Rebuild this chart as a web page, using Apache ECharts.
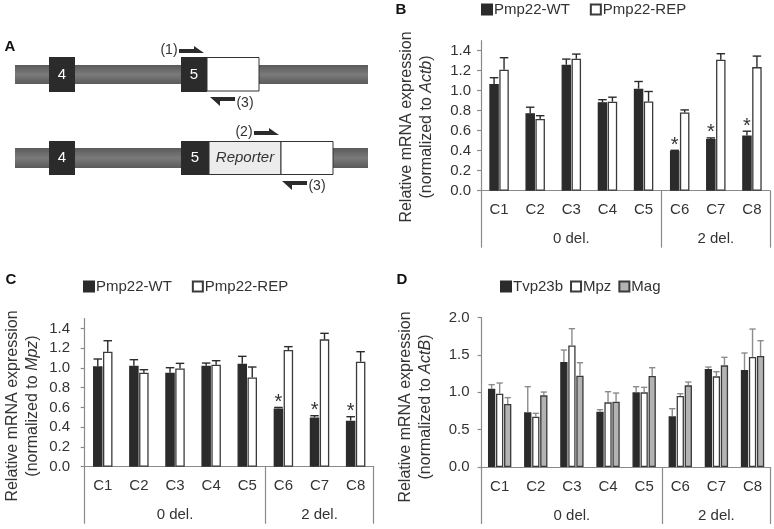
<!DOCTYPE html>
<html>
<head>
<meta charset="utf-8">
<script src="https://cdn.jsdelivr.net/npm/echarts@6/dist/echarts.min.js"></script>
<style>
  html, body { margin: 0; padding: 0; background: #fff; }
  #chart { width: 774px; height: 529px; }
</style>
</head>
<body>
<div id="chart"></div>
<script>
const categories = ["C1", "C2", "C3", "C4", "C5", "C6", "C7", "C8"];
const groupNames = ["0 del.", "2 del."];
const groupBounds = [0, 5, 8];
const groupCenters = [2.5, 6.5];

const ticksPmp = [0, 0.2, 0.4, 0.6, 0.8, 1.0, 1.2, 1.4];
const ticksRef = [0, 0.5, 1.0, 1.5, 2.0];

// panel B, normalized to Actb
const bWt = [1.066, 0.775, 1.26, 0.885, 1.02, 0.398, 0.518, 0.551];
const bWtSd = [0.064, 0.06, 0.056, 0.025, 0.072, 0.006, 0.01, 0.044];
const bRep = [1.21, 0.718, 1.32, 0.89, 0.892, 0.782, 1.31, 1.236];
const bRepSd = [0.12, 0.032, 0.046, 0.045, 0.1, 0.026, 0.06, 0.11];

// panel C, normalized to Mpz
const cWt = [1.016, 1.022, 0.951, 1.022, 1.043, 0.59, 0.499, 0.466];
const cWtSd = [0.074, 0.061, 0.051, 0.027, 0.074, 0.01, 0.017, 0.04];
const cRep = [1.164, 0.951, 0.995, 1.032, 0.904, 1.181, 1.289, 1.063];
const cRepSd = [0.111, 0.031, 0.051, 0.041, 0.105, 0.034, 0.061, 0.101];

const significant = [false, false, false, false, false, true, true, true];

// panel D, normalized to ActB
const dTvp = [1.049, 0.732, 1.406, 0.741, 1.0, 0.679, 1.312, 1.299];
const dTvpSd = [0.054, 0.344, 0.161, 0.027, 0.076, 0.102, 0.027, 0.228];
const dMpz = [0.982, 0.674, 1.629, 0.866, 1.0, 0.951, 1.214, 1.473];
const dMpzSd = [0.143, 0.045, 0.224, 0.143, 0.067, 0.031, 0.063, 0.375];
const dMag = [0.844, 0.96, 1.223, 0.875, 1.219, 1.094, 1.362, 1.487];
const dMagSd = [0.085, 0.044, 0.174, 0.116, 0.111, 0.044, 0.107, 0.205];

const FONT = "Liberation Sans";
const TEXT = "#333";
const AXIS = "#8a8a8a";
const DARK = "#2b2b2b";
const EDGE = "#3a3a3a";

const chart = echarts.init(document.getElementById("chart"), null, { renderer: "canvas" });

function grid(left, top, height) {
  return { left, top, width: 289, height, containLabel: false };
}

function catAxis(gridIndex) {
  return {
    type: "category",
    gridIndex,
    data: categories,
    axisLine: { lineStyle: { color: AXIS, width: 1.2 } },
    axisTick: { show: false },
    axisLabel: { color: TEXT, fontFamily: FONT, fontSize: 15, margin: 12 },
  };
}

function groupAxis(gridIndex) {
  return {
    type: "value",
    gridIndex,
    min: 0,
    max: 8,
    position: "bottom",
    axisLine: { show: false },
    splitLine: { show: false },
    axisTick: {
      show: true,
      customValues: groupBounds,
      length: 57,
      lineStyle: { color: AXIS, width: 1.2 },
    },
    axisLabel: {
      customValues: groupCenters,
      margin: 41,
      color: TEXT,
      fontFamily: FONT,
      fontSize: 15,
      formatter: (v) => groupNames[groupCenters.indexOf(v)] || "",
    },
  };
}

function valAxis(gridIndex, max, ticks, offset) {
  return {
    type: "value",
    gridIndex,
    min: 0,
    max,
    offset,
    axisLine: { show: true, lineStyle: { color: AXIS, width: 1.2 } },
    splitLine: { show: false },
    axisTick: { show: true, customValues: ticks, length: 4, lineStyle: { color: AXIS, width: 1.2 } },
    axisLabel: {
      customValues: ticks,
      margin: 10,
      color: TEXT,
      fontFamily: FONT,
      fontSize: 15,
      formatter: (v) => v.toFixed(1),
    },
  };
}

function bars(name, axisIndex, values, color, width, gap) {
  return {
    name,
    type: "bar",
    xAxisIndex: axisIndex * 2,
    yAxisIndex: axisIndex,
    data: values,
    barWidth: width,
    barGap: gap * 100 + "%",
    itemStyle: { color, borderColor: color === DARK ? DARK : EDGE, borderWidth: 1.3 },
    emphasis: { disabled: true },
    animation: false,
  };
}

// one-sided error bars (and stars) drawn over the k-th of n bars
function errors(axisIndex, values, sds, k, n, width, gap, color, stars) {
  return {
    type: "custom",
    xAxisIndex: axisIndex * 2,
    yAxisIndex: axisIndex,
    silent: true,
    z: 5,
    animation: false,
    data: values.map((v, i) => [i, v, sds[i]]),
    renderItem(params, api) {
      const i = api.value(0);
      const base = api.coord([i, api.value(1)]);
      const top = api.coord([i, api.value(1) + api.value(2)]);
      const total = n * width + (n - 1) * width * gap;
      const cx = base[0] - total / 2 + k * width * (1 + gap) + width / 2;
      const style = { stroke: color, lineWidth: 1.4 };
      const children = [
        { type: "line", shape: { x1: cx, y1: base[1], x2: cx, y2: top[1] }, style },
        { type: "line", shape: { x1: cx - width / 2 + 0.5, y1: top[1], x2: cx + width / 2 - 0.5, y2: top[1] }, style },
      ];
      if (stars && stars[i]) {
        children.push({
          type: "text",
          x: cx,
          y: top[1] - 5,
          style: { text: "*", fill: TEXT, font: `20px "${FONT}"`, align: "center", verticalAlign: "middle" },
        });
      }
      return { type: "group", children };
    },
  };
}

function legend(left, top, names, gap) {
  return {
    left,
    top,
    padding: 0,
    itemGap: gap,
    itemWidth: 10,
    itemHeight: 10,
    icon: "rect",
    selectedMode: false,
    data: names,
    textStyle: { color: TEXT, fontFamily: FONT, fontSize: 15, padding: [0, 0, 0, -3] },
  };
}

function yTitle(x, y, ref) {
  return {
    type: "text",
    x,
    y,
    rotation: Math.PI / 2,
    style: {
      text: "{n|Relative mRNA expression}\n{n|(normalized to }{i|" + ref + "}{n|)}",
      align: "center",
      verticalAlign: "middle",
      rich: {
        n: { fontFamily: FONT, fontSize: 16, fill: TEXT, lineHeight: 20 },
        i: { fontFamily: FONT, fontSize: 16, fontStyle: "italic", fill: TEXT, lineHeight: 20 },
      },
    },
  };
}

function panelLabel(text, x, y) {
  return {
    type: "text",
    x,
    y,
    style: { text, fontFamily: "Liberation Sans", fontWeight: "bold", fontSize: 15, fill: "#111", align: "center", verticalAlign: "middle" },
  };
}

// schematic of panel A
const barFill = new echarts.graphic.LinearGradient(0, 0, 0, 1, [
  { offset: 0, color: "#5a5a5a" },
  { offset: 0.5, color: "#7a7a7a" },
  { offset: 1, color: "#5a5a5a" },
]);

function exon(x, y, w, h, label) {
  return [
    { type: "rect", shape: { x, y, width: w, height: h }, style: { fill: "#2b2b2b" } },
    { type: "text", x: x + w / 2, y: y + h / 2, style: { text: label, fill: "#fff", fontFamily: FONT, fontSize: 15, align: "center", verticalAlign: "middle" } },
  ];
}

function primerRight(x, y) {
  // harpoon pointing right, y is bottom edge
  return { type: "polygon", shape: { points: [[x, y - 4], [x + 15, y - 4], [x + 15, y - 7], [x + 25, y], [x, y]] }, style: { fill: "#2b2b2b" } };
}

function primerLeft(x, y) {
  // harpoon pointing left, y is top edge
  return { type: "polygon", shape: { points: [[x, y], [x + 25, y], [x + 25, y + 4], [x + 10, y + 4], [x + 10, y + 9]] }, style: { fill: "#2b2b2b" } };
}

function plainText(text, x, y, extra = {}) {
  return { type: "text", x, y, style: Object.assign({ text, fill: TEXT, fontFamily: FONT, fontSize: 14, align: "center", verticalAlign: "middle" }, extra) };
}

const schematic = [
  { type: "rect", shape: { x: 15, y: 65, width: 353, height: 19 }, style: { fill: barFill } },
  ...exon(49, 57, 26, 35, "4"),
  ...exon(181, 57, 26, 35, "5"),
  { type: "rect", shape: { x: 207, y: 57.5, width: 52, height: 33.5 }, style: { fill: "#fff", stroke: "#333", lineWidth: 1 } },
  primerRight(179, 53),
  plainText("(1)", 169, 50),
  primerLeft(210, 97),
  plainText("(3)", 245, 103),

  { type: "rect", shape: { x: 15, y: 148, width: 353, height: 20 }, style: { fill: barFill } },
  ...exon(49, 141, 26, 34, "4"),
  ...exon(181, 141, 28, 34, "5"),
  { type: "rect", shape: { x: 209, y: 141.5, width: 72, height: 33 }, style: { fill: "#ececec", stroke: "#333", lineWidth: 1 } },
  plainText("Reporter", 245, 158, { fontSize: 15, fontStyle: "italic" }),
  { type: "rect", shape: { x: 281, y: 141.5, width: 52, height: 33 }, style: { fill: "#fff", stroke: "#333", lineWidth: 1 } },
  primerRight(254, 135),
  plainText("(2)", 244, 132),
  primerLeft(282, 181),
  plainText("(3)", 317, 186),
];

chart.setOption({
  animation: false,
  legend: [
    legend(481, 2, ["Pmp22-WT", "Pmp22-REP"], 20),
    legend(83, 279, ["Pmp22-WT", "Pmp22-REP"], 20),
    legend(500, 279, ["Tvp23b", "Mpz", "Mag"], 7),
  ],
  grid: [grid(481, 40.7, 150), grid(84.7, 318.5, 148.2), grid(481.6, 317.7, 149.3)],
  xAxis: [catAxis(0), groupAxis(0), catAxis(1), groupAxis(1), catAxis(2), groupAxis(2)],
  yAxis: [valAxis(0, 1.5, ticksPmp, 0), valAxis(1, 1.5, ticksPmp, 4.7), valAxis(2, 2.0, ticksRef, 2)],
  series: [
    bars("Pmp22-WT", 0, bWt, DARK, 9.5, 0.05),
    bars("Pmp22-REP", 0, bRep, "#fff", 9.5, 0.05),
    errors(0, bWt, bWtSd, 0, 2, 9.5, 0.05, "#2b2b2b", significant),
    errors(0, bRep, bRepSd, 1, 2, 9.5, 0.05, "#2b2b2b"),

    bars("Pmp22-WT", 1, cWt, DARK, 9.5, 0.05),
    bars("Pmp22-REP", 1, cRep, "#fff", 9.5, 0.05),
    errors(1, cWt, cWtSd, 0, 2, 9.5, 0.05, "#2b2b2b", significant),
    errors(1, cRep, cRepSd, 1, 2, 9.5, 0.05, "#2b2b2b"),

    bars("Tvp23b", 2, dTvp, DARK, 7.3, 0.1),
    bars("Mpz", 2, dMpz, "#fff", 7.3, 0.1),
    bars("Mag", 2, dMag, "#b3b3b3", 7.3, 0.1),
    errors(2, dTvp, dTvpSd, 0, 3, 7.3, 0.1, "#8c8c8c"),
    errors(2, dMpz, dMpzSd, 1, 3, 7.3, 0.1, "#8c8c8c"),
    errors(2, dMag, dMagSd, 2, 3, 7.3, 0.1, "#8c8c8c"),
  ],
  graphic: [
    panelLabel("A", 10, 47),
    panelLabel("B", 401, 10),
    panelLabel("C", 11, 280),
    panelLabel("D", 402, 280),
    yTitle(417, 127, "Actb"),
    yTitle(23, 406, "Mpz"),
    yTitle(416, 407, "ActB"),
    ...schematic,
  ],
});
</script>
</body>
</html>
